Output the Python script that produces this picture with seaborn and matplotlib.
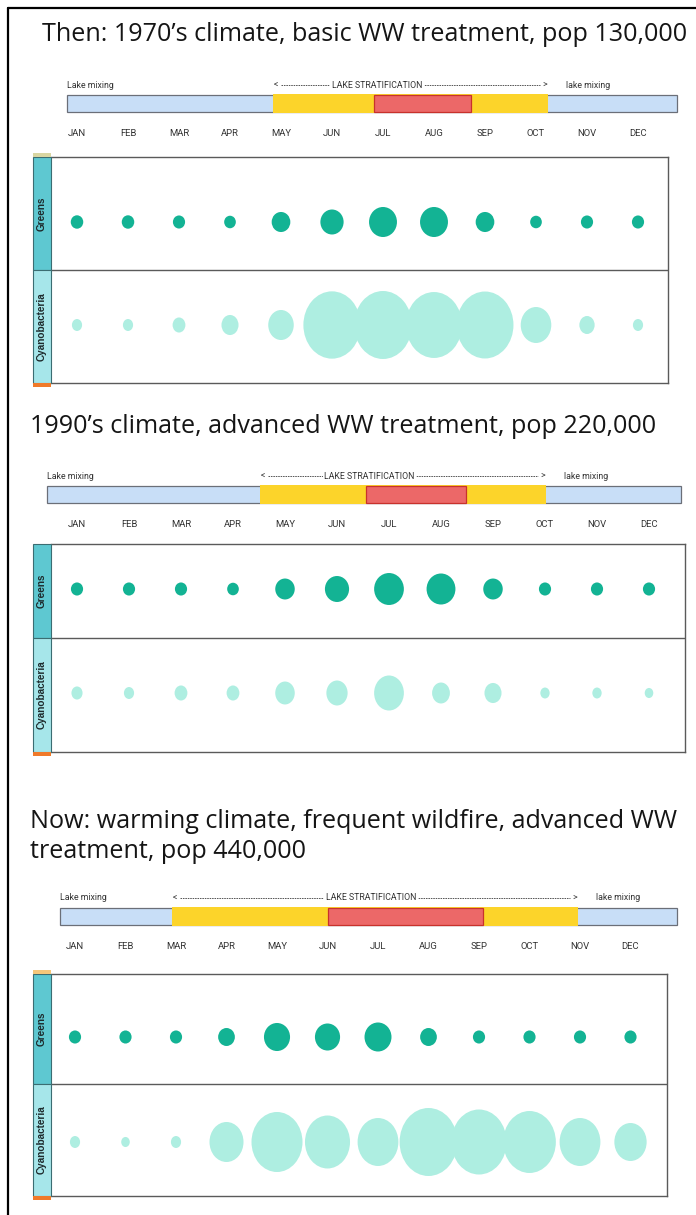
import numpy as np
import pandas as pd
import matplotlib
matplotlib.use("Agg")
import matplotlib.pyplot as plt
import seaborn as sns
from matplotlib.patches import Rectangle
from matplotlib.lines import Line2D
from matplotlib.path import Path
from matplotlib.transforms import Affine2D

# ---------------- data ----------------
months = ["JAN", "FEB", "MAR", "APR", "MAY", "JUN",
          "JUL", "AUG", "SEP", "OCT", "NOV", "DEC"]
groups = ["Greens", "Cyanobacteria"]

title_1970 = ["Then: 1970\u2019s climate, basic WW treatment, pop 130,000"]
title_1990 = ["1990\u2019s climate, advanced WW treatment, pop 220,000"]
title_now = ["Now: warming climate, frequent wildfire, advanced WW",
             "treatment, pop 440,000"]

# lake state in month units (0 = JAN ... 11 = DEC): year span, stratification, peak
year_1970 = (-0.2, 11.76)
strat_1970 = (3.84, 9.24)
peak_1970 = (5.82, 7.73)
year_1990 = (-0.58, 11.62)
strat_1990 = (3.52, 9.02)
peak_1990 = (5.56, 7.48)
year_now = (-0.3, 11.92)
strat_now = (1.92, 9.96)
peak_now = (5.01, 8.08)

# relative abundance (bubble area), 100 = largest bloom
greens_1970 = [3.9, 3.9, 3.7, 3.4, 8.7, 13.5, 19.5, 19.5, 8.7, 3.4, 3.7, 3.7]
cyano_1970 = [3.1, 3.1, 4.9, 8.7, 19.5, 98, 100, 94, 97, 28, 7.0, 3.1]
greens_1990 = [3.7, 3.7, 3.7, 3.4, 9.5, 14.6, 22.1, 20.8, 9.5, 3.7, 3.7, 3.7]
cyano_1990 = [3.7, 3.1, 4.9, 4.9, 11.4, 13.5, 26.5, 9.5, 8.7, 2.6, 2.6, 2.2]
greens_now = [3.7, 3.7, 3.7, 7.0, 17.0, 15.8, 18.2, 7.0, 3.7, 3.7, 3.7, 3.7]
cyano_now = [3.1, 2.2, 3.1, 34.6, 77.9, 60.7, 49.8, 100, 91.4, 83.1, 49.8, 31.2]

# ---------------- style ----------------
W, H = 696, 1215
sns.set_theme(style="white")
plt.rcParams["font.family"] = ["Open Sans", "DejaVu Sans"]

C_GREEN = "#13b394"
C_CYANO = "#aeeee1"
C_BLUE = "#c8def7"
C_YELLOW = "#fcd42a"
C_RED = "#ec6868"
C_REDEDGE = "#c8322c"
C_GRAYEDGE = "#6b6f78"
C_LINE = "#5a5a5a"
S100 = (68 * 0.72) ** 2   # marker area (pt^2) for abundance 100


def ellipse_marker(aspect):
    circ = Path.unit_circle()
    return circ.transformed(Affine2D().scale(aspect, 1.0))


MK_GREEN = ellipse_marker(0.93)
MK_CYANO = ellipse_marker(0.85)

fig = plt.figure(figsize=(W / 100, H / 100), dpi=100)
fig.patch.set_facecolor("white")


def fbox(x0, y0, x1, y1):
    return [x0 / W, 1 - y1 / H, (x1 - x0) / W, (y1 - y0) / H]


def frect(x0, y0, x1, y1, **kw):
    fig.add_artist(Rectangle((x0 / W, 1 - y1 / H), (x1 - x0) / W, (y1 - y0) / H,
                             transform=fig.transFigure, **kw))


# outer frame
fig.add_artist(Line2D([8 / W, 8 / W], [0, 1 - 8 / H], transform=fig.transFigure,
                      color="black", lw=1.6))
fig.add_artist(Line2D([8 / W, 1], [1 - 8 / H, 1 - 8 / H], transform=fig.transFigure,
                      color="black", lw=1.6))

# title font size fitted to the width of the first title
renderer = fig.canvas.get_renderer()
probe = fig.text(0, 0, title_1970[0], fontsize=15)
wpx = probe.get_window_extent(renderer).width
probe.remove()
FS_TITLE = 15 * 644 / wpx

layouts = [
    dict(title_x=42, title_base=[41], bar_cy=103.5, jan=77, step=51,
         box=(157, 270, 383, 668), gy=222, cy=325, top_bit="#d9d6a2", frac=0.375),
    dict(title_x=30, title_base=[433], bar_cy=494.5, jan=77, step=52,
         box=(544, 638, 752, 685), gy=589, cy=693, top_bit=None, frac=0.38),
    dict(title_x=30, title_base=[828, 858], bar_cy=916.5, jan=75, step=50.5,
         box=(974, 1084, 1196, 667), gy=1037, cy=1142, top_bit="#f6c77a", frac=0.49),
]

panels = [
    (title_1970, year_1970, strat_1970, peak_1970, greens_1970, cyano_1970),
    (title_1990, year_1990, strat_1990, peak_1990, greens_1990, cyano_1990),
    (title_now, year_now, strat_now, peak_now, greens_now, cyano_now),
]

for L, (tlines, yr, st, pk, gv, cv) in zip(layouts, panels):
    # ---- title ----
    for line, yb in zip(tlines, L["title_base"]):
        fig.text(L["title_x"] / W, 1 - yb / H, line, fontsize=FS_TITLE,
                 ha="left", va="baseline", color="#151515")

    jan, step = L["jan"], L["step"]
    cyb = L["bar_cy"]

    # ---- timeline ----
    axl, axr = 20, 692
    ax = fig.add_axes(fbox(axl, cyb - 30, axr, cyb + 40))
    ax.set_xlim((axl - jan) / step, (axr - jan) / step)
    ax.set_ylim(40, -30)
    ax.axis("off")
    ax.barh(0, yr[1] - yr[0], left=yr[0], height=17, color=C_BLUE,
            edgecolor=C_GRAYEDGE, linewidth=0.9, zorder=2)
    ax.barh(0, st[1] - st[0], left=st[0], height=18.2, color=C_YELLOW,
            edgecolor="none", linewidth=0, zorder=3)
    ax.barh(0, pk[1] - pk[0], left=pk[0], height=17, color=C_RED,
            edgecolor=C_REDEDGE, linewidth=0.9, zorder=4)

    tkw = dict(fontsize=6.3, color="#333333", va="center", family=["Roboto", "DejaVu Sans"])
    mkw = dict(fontsize=6.8, color="#333333", va="center", family=["Roboto", "DejaVu Sans"])
    ax.text(yr[0], -18.5, "Lake mixing", ha="left", **tkw)
    ax.text(st[1] + 0.35, -18.5, "lake mixing", ha="left", **tkw)
    s0, s1 = st[0] + 0.06, st[1] - 0.06
    ax.plot([s0 + 0.1, s1 - 0.1], [-18.5, -18.5], color="#555", lw=0.7,
            ls=(0, (1.6, 0.9)), zorder=2)
    ax.text(s0, -18.5, "<", ha="center", **tkw)
    ax.text(s1, -18.5, ">", ha="center", **tkw)
    ax.text(s0 + L["frac"] * (s1 - s0), -18.5, "LAKE STRATIFICATION", ha="center",
            bbox=dict(facecolor="white", edgecolor="none", pad=1.2), zorder=3, **tkw)
    for i, m in enumerate(months):
        ax.text(i, 30, m, ha="center", **mkw)

    # ---- bubbles ----
    top, mid, bot, right = L["box"]
    gy, cy = L["gy"], L["cy"]
    unit = cy - gy
    bx = fig.add_axes(fbox(51, top, right, bot))
    bx.set_facecolor("none")
    bx.set_xlim((51 - jan) / step, (right - jan) / step)
    bx.set_ylim(1 + (bot - cy) / unit, -(gy - top) / unit)

    df = pd.DataFrame({
        "month": months * 2,
        "group": [groups[0]] * 12 + [groups[1]] * 12,
        "value": list(gv) + list(cv),
    })
    df["pos"] = df["month"].map({m: i for i, m in enumerate(months)})
    df["row"] = df["group"].map({g: i for i, g in enumerate(groups)})

    sns.scatterplot(data=df[df.group == "Cyanobacteria"], x="pos", y="row",
                    size="value", sizes=(0, S100), size_norm=(0, 100),
                    color=C_CYANO, marker=MK_CYANO, linewidth=0,
                    legend=False, ax=bx, zorder=2)
    sns.scatterplot(data=df[df.group == "Greens"], x="pos", y="row",
                    size="value", sizes=(0, S100), size_norm=(0, 100),
                    color=C_GREEN, marker=MK_GREEN, linewidth=0,
                    legend=False, ax=bx, zorder=3)
    bx.axhline((mid - gy) / unit, color=C_LINE, lw=1.0, zorder=1)
    bx.set_xticks([])
    bx.set_yticks([])
    bx.set_xlabel("")
    bx.set_ylabel("")
    bx.spines["left"].set_visible(False)
    for s in ["top", "bottom", "right"]:
        bx.spines[s].set_color(C_LINE)
        bx.spines[s].set_linewidth(1.0)

    # ---- side strip ----
    frect(33, top, 51, mid, facecolor="#5ec8d1", edgecolor="#3b6d72", lw=0.8)
    frect(33, mid, 51, bot, facecolor="#a6e6ea", edgecolor="#3b6d72", lw=0.8)
    frect(33, bot, 51, bot + 4, facecolor="#f07a2a", edgecolor="none")
    if L["top_bit"]:
        frect(33, top - 4, 51, top, facecolor=L["top_bit"], edgecolor="none")
    lkw = dict(rotation=90, ha="center", va="center", fontsize=7.2, fontweight="bold",
               color="#1d2a2c", family=["Liberation Sans", "DejaVu Sans"])
    fig.text(42 / W, 1 - ((top + mid) / 2) / H, groups[0], **lkw)
    fig.text(42 / W, 1 - ((mid + bot) / 2) / H, groups[1], **lkw)

fig.savefig("out.png", dpi=100, facecolor="white")
